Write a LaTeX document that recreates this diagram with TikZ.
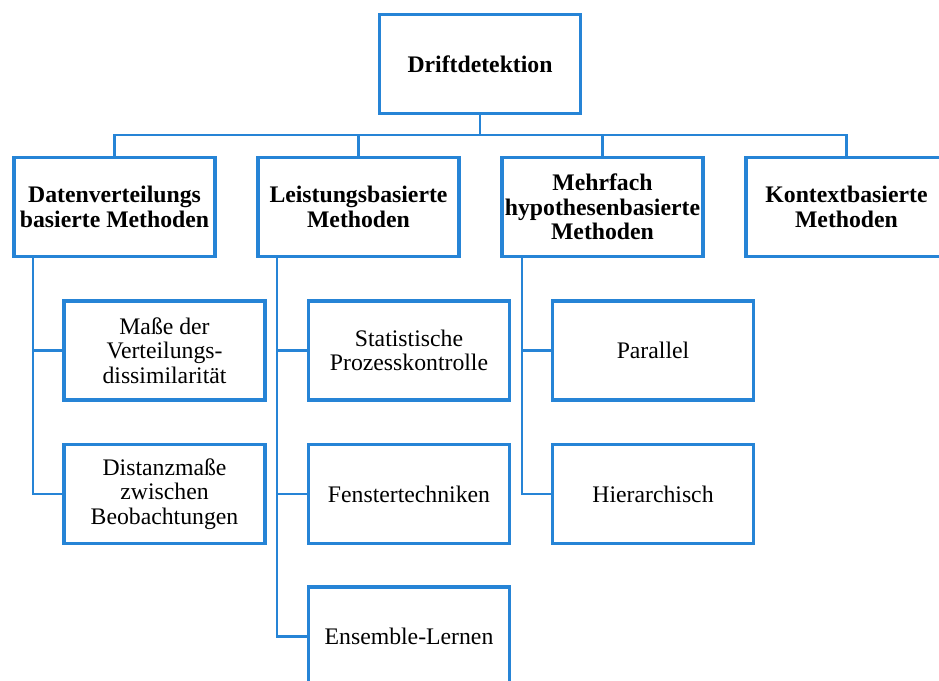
\documentclass[tikz,border=0pt]{standalone}
\usepackage{fontspec}
\setmainfont{Liberation Serif}
\definecolor{linkblue}{RGB}{38,132,214}
\begin{document}
\begin{tikzpicture}[x=0.75pt,y=-0.75pt,
  box/.style={draw=linkblue, line width=2.55pt, fill=white,
    minimum width=150.5pt, minimum height=74pt, inner sep=0pt, outer sep=0pt,
    align=center, font=\fontsize{17.8}{18.3}\selectfont},
  head/.style={box, font=\fontsize{17.8}{18.3}\selectfont\bfseries},
  link/.style={draw=linkblue, line width=2.1pt}]
\useasboundingbox (0,0) rectangle (939,681);

% root
\node[head] (top) at (480,64) {Driftdetektion};

% method families
\node[head] (dv) at (114.5,207) {Datenverteilungs\\basierte Methoden};
\node[head] (lb) at (358.5,207) {Leistungsbasierte\\Methoden};
\node[head] (mh) at (602.5,207) {Mehrfach\\hypothesenbasierte\\Methoden};
\node[head] (kb) at (846.5,207) {Kontextbasierte\\Methoden};

% sub-methods
\node[box] (masse) at (164.5,350.5) {Maße der\\Verteilungs-\\dissimilarität};
\node[box] (dist)  at (164.5,494)   {Distanzmaße\\zwischen\\Beobachtungen};
\node[box] (spc)   at (409,350.5)   {Statistische\\Prozesskontrolle};
\node[box] (fen)   at (409,494)     {Fenstertechniken};
\node[box] (ens)   at (409,636.5)   {Ensemble-Lernen};
\node[box] (par)   at (653,350.5)   {Parallel};
\node[box] (hier)  at (653,494)     {Hierarchisch};

% bus below the root
\coordinate (bus) at (0,135);
\draw[link] (top.south) -- (top.south |- bus);
\draw[link] (dv.north) -- (dv.north |- bus) -- (kb.north |- bus) -- (kb.north);
\draw[link] (lb.north) -- (lb.north |- bus);
\draw[link] (mh.north) -- (mh.north |- bus);

% spines of the three branches
\coordinate (s1) at (33,0);
\coordinate (s2) at (277,0);
\coordinate (s3) at (522,0);
\draw[link] (s1 |- dv.south) |- (dist.west);
\draw[link] (s1 |- masse.west) -- (masse.west);
\draw[link] (s2 |- lb.south) |- (ens.west);
\draw[link] (s2 |- spc.west) -- (spc.west);
\draw[link] (s2 |- fen.west) -- (fen.west);
\draw[link] (s3 |- mh.south) |- (hier.west);
\draw[link] (s3 |- par.west) -- (par.west);
\end{tikzpicture}
\end{document}
